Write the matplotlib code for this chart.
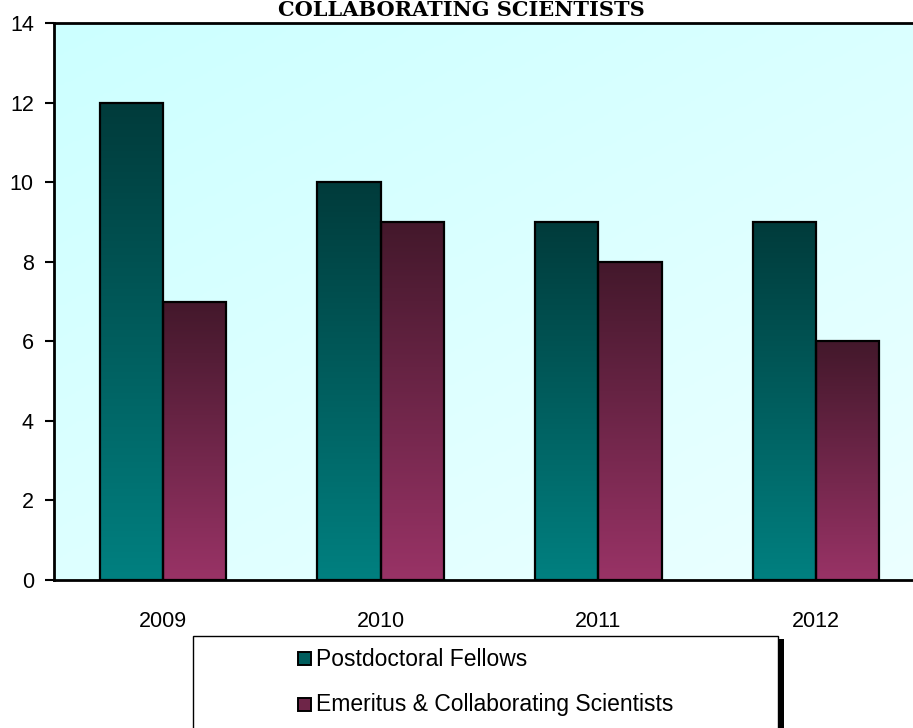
import numpy as np
import matplotlib.pyplot as plt
from matplotlib.colors import LinearSegmentedColormap
from matplotlib.patches import Rectangle

years = ['2009', '2010', '2011', '2012']
postdocs = [12, 10, 9, 9]
emeritus = [7, 9, 8, 6]
series_names = ['Postdoctoral Fellows', 'Emeritus & Collaborating Scientists']

W, H = 913, 728
teal = LinearSegmentedColormap.from_list('teal', ['#008080', '#003b3b'])
plum = LinearSegmentedColormap.from_list('plum', ['#993366', '#43182b'])
sky = LinearSegmentedColormap.from_list('sky', ['#ecffff', '#ccffff'])


def fig_box(x, y, w, h):
    """Pixel box (top-left origin) -> figure fraction rect."""
    return [x / W, 1 - (y + h) / H, w / W, h / H]


fig = plt.figure(figsize=(W / 100, H / 100), dpi=100)
plt.rcParams['font.family'] = ['Liberation Sans', 'DejaVu Sans']
ax = fig.add_axes(fig_box(54, 23, 871, 557))

# light diagonal background
gx, gy = np.meshgrid(np.linspace(0, 1, 200), np.linspace(0, 1, 200))
bg = 0.55 * gy + 0.45 * (1 - gx)
ax.imshow(bg, extent=[0, 1, 0, 1], transform=ax.transAxes, cmap=sky,
          aspect='auto', origin='lower', zorder=0)

width = 0.29
x = np.arange(len(years))
ramp = np.linspace(0, 1, 256).reshape(-1, 1)
for vals, off, cmap in [(postdocs, -width / 2, teal), (emeritus, width / 2, plum)]:
    for xi, v in zip(x, vals):
        ax.imshow(ramp, extent=[xi + off - width / 2, xi + off + width / 2, 0, v],
                  cmap=cmap, aspect='auto', origin='lower', zorder=2)
    ax.bar(x + off, vals, width, fill=False, edgecolor='black', linewidth=1.6, zorder=3)

ax.set_xlim(-0.5, 3.5)
ax.set_ylim(0, 14)
ax.set_yticks(range(0, 15, 2))
ax.set_xticks(x)
ax.set_xticklabels(years)
ax.tick_params(axis='y', length=6.5, width=1.5, labelsize=15.5, pad=8)
ax.tick_params(axis='x', length=0, labelsize=15.5, pad=22)
for side in ['left', 'bottom', 'top']:
    ax.spines[side].set_linewidth(2)
ax.spines['right'].set_visible(False)

fig.text(461 / W, 1 - 16 / H, 'COLLABORATING SCIENTISTS', ha='center', va='baseline',
         fontsize=15, fontweight='bold', family=['DejaVu Serif'])

# legend box with drop shadow on the right
sh = fig_box(778, 639, 6, 100)
fig.patches.append(Rectangle(sh[:2], sh[2], sh[3], transform=fig.transFigure,
                             facecolor='black', zorder=1))
lb = fig_box(193, 636, 585, 110)
fig.patches.append(Rectangle(lb[:2], lb[2], lb[3], transform=fig.transFigure,
                             facecolor='white', edgecolor='black', linewidth=1, zorder=2))
for row, (name, cmap) in enumerate(zip(series_names, [teal, plum])):
    cy = 659 + row * 46
    sq = fig_box(298, cy - 7, 13, 13)
    fig.patches.append(Rectangle(sq[:2], sq[2], sq[3], transform=fig.transFigure,
                                 facecolor=cmap(0.5), edgecolor='black', linewidth=1.4, zorder=3))
    fig.text(316 / W, 1 - cy / H, name, ha='left', va='center', fontsize=16.5, zorder=4)

fig.savefig('out.png', dpi=100)
